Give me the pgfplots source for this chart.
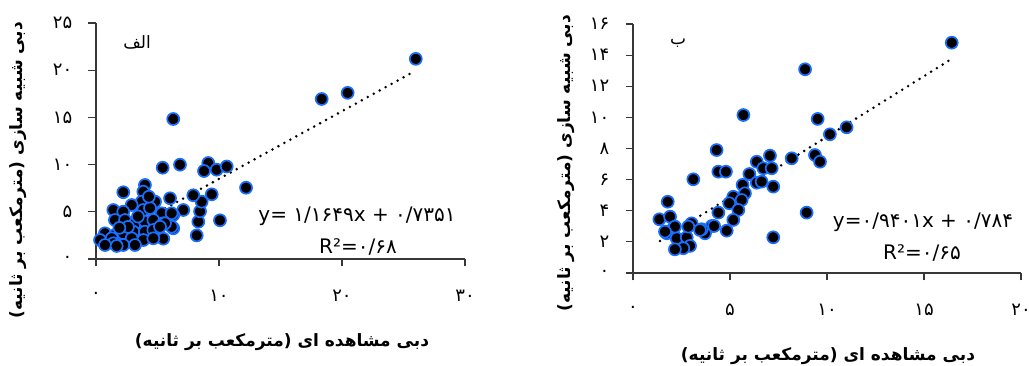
\documentclass[border=0pt]{standalone}
\usepackage{fontspec}
\usepackage{pgfplots}
\pgfplotsset{compat=1.18}
\TeXXeTstate=1
\setmainfont{DejaVu Sans}
\newfontfamily\fa[Script=Arabic]{DejaVu Sans}
\definecolor{ring}{RGB}{25,110,255}
\definecolor{axc}{RGB}{55,55,55}
\pgfplotsset{
 sc/.style={
  scale only axis, axis lines=left, axis line style={-, axc, line width=1.1pt},
  tick style={axc, line width=1.1pt}, tick align=outside, major tick length=7.5pt,
  xticklabel style={font=\fa\fontsize{18}{18}\selectfont, anchor=center, inner sep=0pt, yshift=-29pt},
  yticklabel style={font=\fa\fontsize{18}{18}\selectfont, anchor=east, inner sep=0pt, xshift=-16pt},
  clip=false,
 },
 pts/.style={only marks, mark=*, mark size=6.0pt, mark options={fill=black, draw=ring, line width=1.7pt}},
 trend/.style={black, line width=2.8pt, dash pattern=on 0pt off 6.8pt, line cap=round},
}
\begin{document}
\begin{tikzpicture}
\path[use as bounding box] (0,0) rectangle (1029pt,366pt);
\begin{axis}[sc, at={(96pt,107pt)}, anchor=south west, width=369pt, height=236pt,
  xmin=0, xmax=30, ymin=0, ymax=25,
  xtick={0,10,20,30}, xticklabels={۰,۱۰,۲۰,۳۰},
  ytick={0,5,10,15,20,25}, yticklabels={۰,۵,۱۰,۱۵,۲۰,۲۵}]
\addplot[pts] table {
26.0 21.2
18.35 16.95
20.46 17.6
6.28 14.83
5.42 9.67
6.83 9.99
9.13 10.17
8.78 9.32
9.81 9.46
10.63 9.80
12.2 7.55
10.08 4.10
8.19 2.50
8.32 3.95
8.46 5.05
8.59 6.07
7.91 6.75
9.41 6.85
7.10 5.19
6.28 4.66
6.02 6.43
6.28 3.25
5.47 2.15
5.34 4.84
6.15 4.84
4.80 6.07
2.22 7.07
3.98 7.84
3.85 7.13
3.72 6.07
2.90 5.72
1.41 5.19
2.22 5.01
3.85 5.19
1.54 4.13
2.36 4.13
3.17 3.78
3.98 3.95
4.66 4.13
5.47 3.78
6.15 3.42
0.73 2.72
1.54 2.54
2.22 2.72
3.03 2.89
3.98 2.89
4.66 3.07
0.33 2.01
1.28 2.19
2.90 2.19
3.85 2.01
4.66 2.19
2.22 1.48
3.17 1.48
1.41 1.66
0.73 1.48
1.68 1.38
5.61 3.78
5.20 3.42
4.39 5.4
3.41 4.5
2.6 3.4
1.9 3.3
4.3 6.6
};
\addplot[trend] coordinates {(0.3,1.53) (25.5,19.6)};
\end{axis}
\begin{axis}[sc, at={(633pt,93pt)}, anchor=south west, width=388pt, height=249pt,
  xmin=0, xmax=20, ymin=0, ymax=16,
  xtick={0,5,10,15,20}, xticklabels={۰,۵,۱۰,۱۵,۲۰},
  ytick={0,2,4,6,8,10,12,14,16}, yticklabels={۰,۲,۴,۶,۸,۱۰,۱۲,۱۴,۱۶}]
\addplot[pts] table {
16.43 14.8
8.87 13.09
5.69 10.15
9.52 9.9
11.01 9.36
10.15 8.91
4.31 7.9
7.06 7.54
8.18 7.37
9.38 7.58
9.64 7.15
6.38 7.15
6.72 6.73
7.15 6.73
4.40 6.51
4.79 6.51
6.0 6.36
3.11 6.02
6.38 5.8
6.63 5.87
7.23 5.55
5.65 5.66
5.77 5.12
5.17 4.9
5.60 4.69
4.96 4.48
5.43 4.05
5.17 3.41
4.40 3.88
4.06 3.02
4.83 2.72
3.71 2.55
3.54 2.81
3.02 3.19
8.95 3.88
7.23 2.29
1.79 4.58
1.36 3.45
1.91 3.62
1.74 2.55
2.08 2.87
2.25 2.23
2.77 2.29
2.94 1.74
2.59 1.59
2.16 1.52
2.85 2.98
2.16 2.98
1.65 2.66
3.45 2.76
4.18 3.02
};
\addplot[trend] coordinates {(1.39,2.06) (16.34,13.69)};
\end{axis}
% texts
\node[font=\fa\fontsize{17}{17}\selectfont] at (137pt,324pt) {\beginR الف\endR};
\node[font=\fa\fontsize{17}{17}\selectfont] at (678pt,323pt) {\beginR ب\endR};
\node[font=\fa\fontsize{20}{20}\selectfont] at (357pt,150pt) {\beginL y= ۱/۱۶۴۹x + ۰/۷۳۵۱\endL};
\node[font=\fa\fontsize{20}{20}\selectfont] at (358pt,119pt) {\beginL R²=۰/۶۸\endL};
\node[font=\fa\fontsize{20}{20}\selectfont] at (923pt,144pt) {\beginL y=۰/۹۴۰۱x + ۰/۷۸۴\endL};
\node[font=\fa\fontsize{20}{20}\selectfont] at (922pt,113pt) {\beginL R²=۰/۶۵\endL};
\node[font=\fa\bfseries\fontsize{17}{17}\selectfont] at (282pt,24pt) {\beginR دبی مشاهده ای (مترمکعب بر ثانیه)\endR};
\node[font=\fa\bfseries\fontsize{17}{17}\selectfont] at (828pt,10pt) {\beginR دبی مشاهده ای (مترمکعب بر ثانیه)\endR};
\node[font=\fa\bfseries\fontsize{17}{17}\selectfont, rotate=90] at (18pt,196pt) {\beginR دبی شبیه سازی (مترمکعب بر ثانیه)\endR};
\node[font=\fa\bfseries\fontsize{17}{17}\selectfont, rotate=90] at (566pt,203pt) {\beginR دبی شبیه سازی (مترمکعب بر ثانیه)\endR};
\end{tikzpicture}
\end{document}
